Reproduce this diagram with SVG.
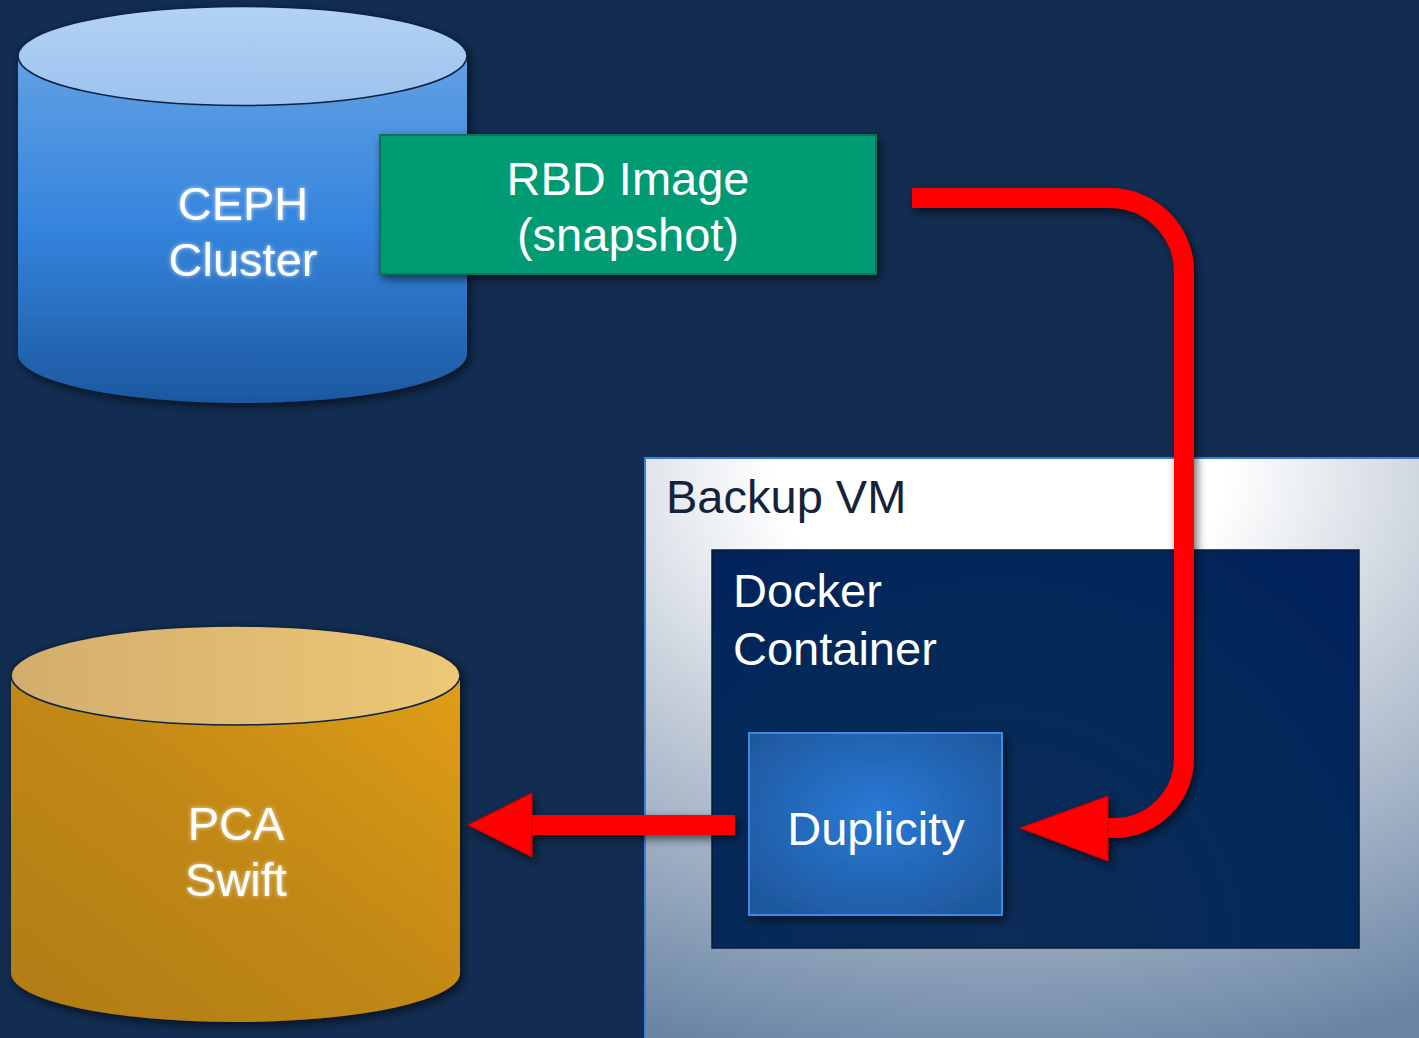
<svg xmlns="http://www.w3.org/2000/svg" width="1419" height="1038" viewBox="0 0 1419 1038">
  <defs>
    <linearGradient id="cephBody" x1="0" y1="0" x2="0" y2="1">
      <stop offset="0" stop-color="#62a0e4"/>
      <stop offset="0.5" stop-color="#3484dc"/>
      <stop offset="1" stop-color="#1d58a0"/>
    </linearGradient>
    <linearGradient id="cephTop" x1="0" y1="0" x2="0" y2="1">
      <stop offset="0" stop-color="#b3d2f3"/>
      <stop offset="1" stop-color="#9cc2ee"/>
    </linearGradient>
    <linearGradient id="pcaBody" x1="1" y1="0" x2="0" y2="1">
      <stop offset="0" stop-color="#e09e18"/>
      <stop offset="0.5" stop-color="#c18814"/>
      <stop offset="1" stop-color="#b07c12"/>
    </linearGradient>
    <linearGradient id="pcaTop" x1="0" y1="0" x2="1" y2="0">
      <stop offset="0" stop-color="#d3ad6c"/>
      <stop offset="1" stop-color="#edc877"/>
    </linearGradient>
    <radialGradient id="vmGrad" gradientUnits="userSpaceOnUse" cx="1000" cy="470" r="600" gradientTransform="translate(1000 470) scale(1.5 1) translate(-1000 -470)">
      <stop offset="0" stop-color="#ffffff"/>
      <stop offset="0.25" stop-color="#ffffff"/>
      <stop offset="0.5" stop-color="#c9d1dc"/>
      <stop offset="1" stop-color="#6b86a5"/>
    </radialGradient>
    <radialGradient id="dockerGrad" gradientUnits="userSpaceOnUse" cx="1000" cy="950" r="560">
      <stop offset="0" stop-color="#0d2c56"/>
      <stop offset="0.6" stop-color="#03295a"/>
      <stop offset="1" stop-color="#011f5c"/>
    </radialGradient>
    <radialGradient id="dupGrad" cx="0.5" cy="0.45" r="0.65">
      <stop offset="0" stop-color="#2a7ad6"/>
      <stop offset="1" stop-color="#1e589e"/>
    </radialGradient>
    <filter id="shadow" x="-10%" y="-10%" width="130%" height="130%">
      <feGaussianBlur in="SourceAlpha" stdDeviation="5"/>
      <feOffset dx="3" dy="4" result="b"/>
      <feComponentTransfer><feFuncA type="linear" slope="0.6"/></feComponentTransfer>
      <feMerge><feMergeNode/><feMergeNode in="SourceGraphic"/></feMerge>
    </filter>
    <filter id="glow" x="-20%" y="-30%" width="140%" height="160%">
      <feFlood flood-color="#ffffff" flood-opacity="0.7"/>
      <feComposite operator="in" in2="SourceAlpha"/>
      <feGaussianBlur stdDeviation="2" result="g"/>
      <feMerge><feMergeNode in="g"/><feMergeNode in="SourceGraphic"/></feMerge>
    </filter>
  </defs>
  <style>
    text { font-family: "Liberation Sans", Arial, sans-serif; font-size: 47px; }
    .w { fill: #ffffff; }
    .c { text-anchor: middle; }
    .dark { fill: #15233a; }
    .arrow { fill: #ff0000; stroke: #c80000; stroke-width: 1; }
    .line { fill: none; stroke: #ff0000; stroke-width: 20; }
  </style>
  <rect width="1419" height="1038" fill="#122d51"/>

  <g id="ceph">
    <g filter="url(#shadow)">
      <path d="M18 56 V354 A224.5 49 0 0 0 467 354 V56 Z" fill="url(#cephBody)"/>
      <ellipse cx="242.5" cy="56" rx="224.5" ry="49.5" fill="url(#cephTop)" stroke="#0e2240" stroke-width="1.5"/>
    </g>
    <text class="w c" x="243" y="220" filter="url(#glow)">CEPH</text>
    <text class="w c" x="243" y="276" filter="url(#glow)">Cluster</text>
  </g>

  <g id="rbd">
    <rect x="380" y="135" width="496" height="139" fill="#029a73" stroke="#107457" stroke-width="2" filter="url(#shadow)"/>
    <text class="w c" x="628" y="195">RBD Image</text>
    <text class="w c" x="628" y="251">(snapshot)</text>
  </g>

  <g id="pca">
    <g filter="url(#shadow)">
      <path d="M11 675 V973 A224.5 49 0 0 0 460 973 V675 Z" fill="url(#pcaBody)"/>
      <ellipse cx="235.5" cy="675.5" rx="224.5" ry="49.5" fill="url(#pcaTop)" stroke="#0e2240" stroke-width="1.5"/>
    </g>
    <text class="w c" x="236" y="840" filter="url(#glow)">PCA</text>
    <text class="w c" x="236" y="896" filter="url(#glow)">Swift</text>
  </g>

  <g id="backup-vm">
    <rect x="645" y="458" width="790" height="600" fill="url(#vmGrad)" stroke="#3d7fd5" stroke-width="2"/>
    <text class="dark" x="666" y="513">Backup VM</text>
  </g>

  <g id="docker">
    <rect x="712" y="550" width="647" height="398" fill="url(#dockerGrad)" stroke="#0a1a33" stroke-width="1.5"/>
    <text class="w" x="733" y="607">Docker</text>
    <text class="w" x="733" y="665">Container</text>
  </g>

  <g id="duplicity">
    <rect x="749" y="733" width="253" height="182" fill="url(#dupGrad)" stroke="#3c8ae6" stroke-width="2" filter="url(#shadow)"/>
    <text class="w c" x="876" y="845">Duplicity</text>
  </g>

  <g id="connectors" filter="url(#shadow)">
    <path class="line" d="M912 198 H1110 A74 74 0 0 1 1184 272 V758 A70 70 0 0 1 1114 828 H1100"/>
    <polygon class="arrow" points="1020,828 1108,796 1108,861"/>
    <path class="line" d="M735 825 H528"/>
    <polygon class="arrow" points="468,825 532,793 532,857"/>
  </g>
</svg>
